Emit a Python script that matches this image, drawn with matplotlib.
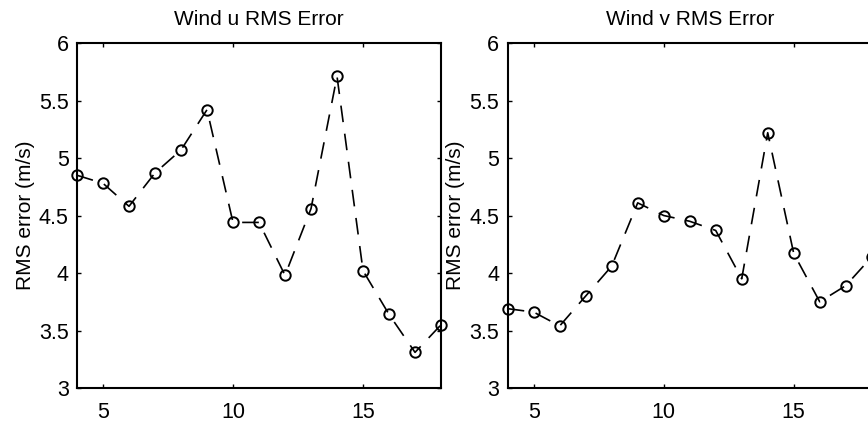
import matplotlib
matplotlib.use('Agg')
import matplotlib.pyplot as plt

# forecast lead (x) and RMS errors
lead = [4, 5, 6, 7, 8, 9, 10, 11, 12, 13, 14, 15, 16, 17, 18]
rms_u = [4.85, 4.78, 4.58, 4.87, 5.07, 5.42, 4.44, 4.44, 3.98, 4.56, 5.71, 4.02, 3.64, 3.31, 3.55]
rms_v = [3.69, 3.66, 3.54, 3.80, 4.06, 4.61, 4.50, 4.45, 4.37, 3.95, 5.22, 4.17, 3.75, 3.89, 4.14]
titles = ['Wind u RMS Error', 'Wind v RMS Error']
ylabel = 'RMS error (m/s)'
xticks = [5, 10, 15]
yticks = [3, 3.5, 4, 4.5, 5, 5.5, 6]
ytick_labels = ['3', '3.5', '4', '4.5', '5', '5.5', '6']

plt.rcParams['font.family'] = ['Liberation Sans', 'DejaVu Sans']

fig = plt.figure(figsize=(8.68, 4.23), dpi=100)
ax_left = fig.add_axes([0.0887, 0.0827, 0.4194, 0.8156])
ax_right = fig.add_axes([0.5849, 0.0827, 0.4194, 0.8156])

for ax, vals, title in zip([ax_left, ax_right], [rms_u, rms_v], titles):
    ax.plot(lead, vals, color='black', lw=1.2, dashes=(10, 7),
            marker='o', ms=7.5, mfc='none', mec='black', mew=1.4, clip_on=False)
    ax.set_xlim(4, 18)
    ax.set_ylim(3, 6)
    ax.set_xticks(xticks)
    ax.set_yticks(yticks)
    ax.set_yticklabels(ytick_labels)
    ax.tick_params(direction='in', length=3, width=1, top=True, right=True,
                   labelsize=15.5)
    ax.tick_params(axis='x', pad=10)
    ax.tick_params(axis='y', pad=6)
    for s in ax.spines.values():
        s.set_linewidth(1.5)
    ax.set_title(title, fontsize=15, pad=13)
    ax.set_ylabel(ylabel, fontsize=15, labelpad=3)

fig.savefig('out.png', dpi=100)
